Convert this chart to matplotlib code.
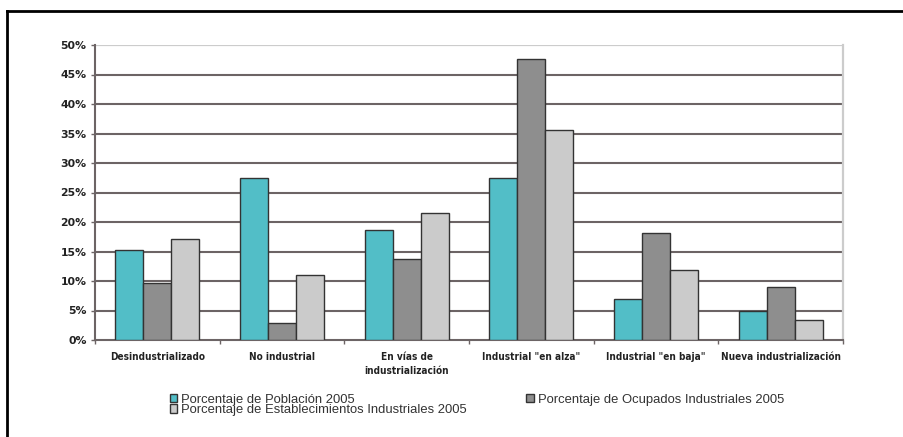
import matplotlib
matplotlib.use("agg")
import matplotlib.pyplot as plt
from matplotlib.lines import Line2D
import numpy as np

categories = ["Desindustrializado", "No industrial", "En vías de\nindustrialización",
              "Industrial \"en alza\"", "Industrial \"en baja\"", "Nueva industrialización"]
poblacion = [15.3, 27.4, 18.6, 27.4, 6.9, 5.0]
ocupados = [9.7, 2.8, 13.7, 47.6, 18.2, 8.9]
establecimientos = [17.2, 11.1, 21.6, 35.6, 11.9, 3.4]
series_names = ["Porcentaje de Población 2005",
                "Porcentaje de Ocupados Industriales 2005",
                "Porcentaje de Establecimientos Industriales 2005"]
y_ticks = [0, 5, 10, 15, 20, 25, 30, 35, 40, 45, 50]

colors = ["#52bec7", "#8e8e8e", "#cbcbcb"]
grid_c = "#6c6465"

fig = plt.figure(figsize=(9.04, 4.37), dpi=100)
ax = fig.add_axes([95 / 904, 1 - 340 / 437, 748 / 904, 295 / 437])

x = np.arange(len(categories))
w = 0.225
bars = []
for i, vals in enumerate([poblacion, ocupados, establecimientos]):
    b = ax.bar(x + (i - 1) * w, vals, w, color=colors[i], edgecolor="#333333",
               linewidth=1.0, zorder=3, label=series_names[i])
    bars.append(b)

ax.set_xlim(-0.5, len(categories) - 0.5)
ax.set_ylim(0, 50)
ax.set_yticks(y_ticks)
ax.set_yticklabels([f"{t}%" for t in y_ticks], fontsize=7.8, fontweight="bold",
                   color="#222222")
for t in y_ticks[1:-1]:
    ax.axhline(t, color=grid_c, lw=1.5, zorder=1)
ax.axhline(50, color="#cccccc", lw=1.6, zorder=1)

ax.set_xticks(x)
ax.set_xticklabels(categories, fontsize=7.2, fontweight="bold", fontstretch="condensed",
                   color="#222222", linespacing=1.4)
ax.set_xticks(np.arange(len(categories) + 1) - 0.5, minor=True)
ax.tick_params(axis="x", which="major", length=0, pad=9)
ax.tick_params(axis="x", which="minor", length=3, width=1, color=grid_c, direction="out")
ax.tick_params(axis="y", length=3, width=1, color=grid_c, pad=3)

for side in ["left", "bottom"]:
    ax.spines[side].set_color(grid_c)
    ax.spines[side].set_linewidth(1.5)
ax.spines["top"].set_visible(False)
ax.spines["right"].set_color("#cccccc")
ax.spines["right"].set_linewidth(1.6)

# legend: two columns, población and establecimientos on the left
handles = [bars[0], bars[2], bars[1]]
labels = [series_names[0], series_names[2], series_names[1]]
leg = ax.legend(handles, labels, ncol=2, loc="upper left",
                bbox_to_anchor=(163 / 904, 1 - 387 / 437),
                bbox_transform=fig.transFigure, frameon=False,
                handlelength=0.6, handleheight=0.6, handletextpad=0.3, labelspacing=-0.1,
                columnspacing=4.55, borderpad=0,
                prop={"family": ["Liberation Sans", "DejaVu Sans"], "size": 9.4})
for t in leg.get_texts():
    t.set_color("#333333")

# outer frame, only top and left edges visible
fig.add_artist(Line2D([7 / 904, 1], [1 - 11 / 437, 1 - 11 / 437], color="black", lw=2,
                      transform=fig.transFigure))
fig.add_artist(Line2D([7 / 904, 7 / 904], [0, 1 - 11 / 437], color="black", lw=2,
                      transform=fig.transFigure))

fig.savefig("out.png", dpi=100)
